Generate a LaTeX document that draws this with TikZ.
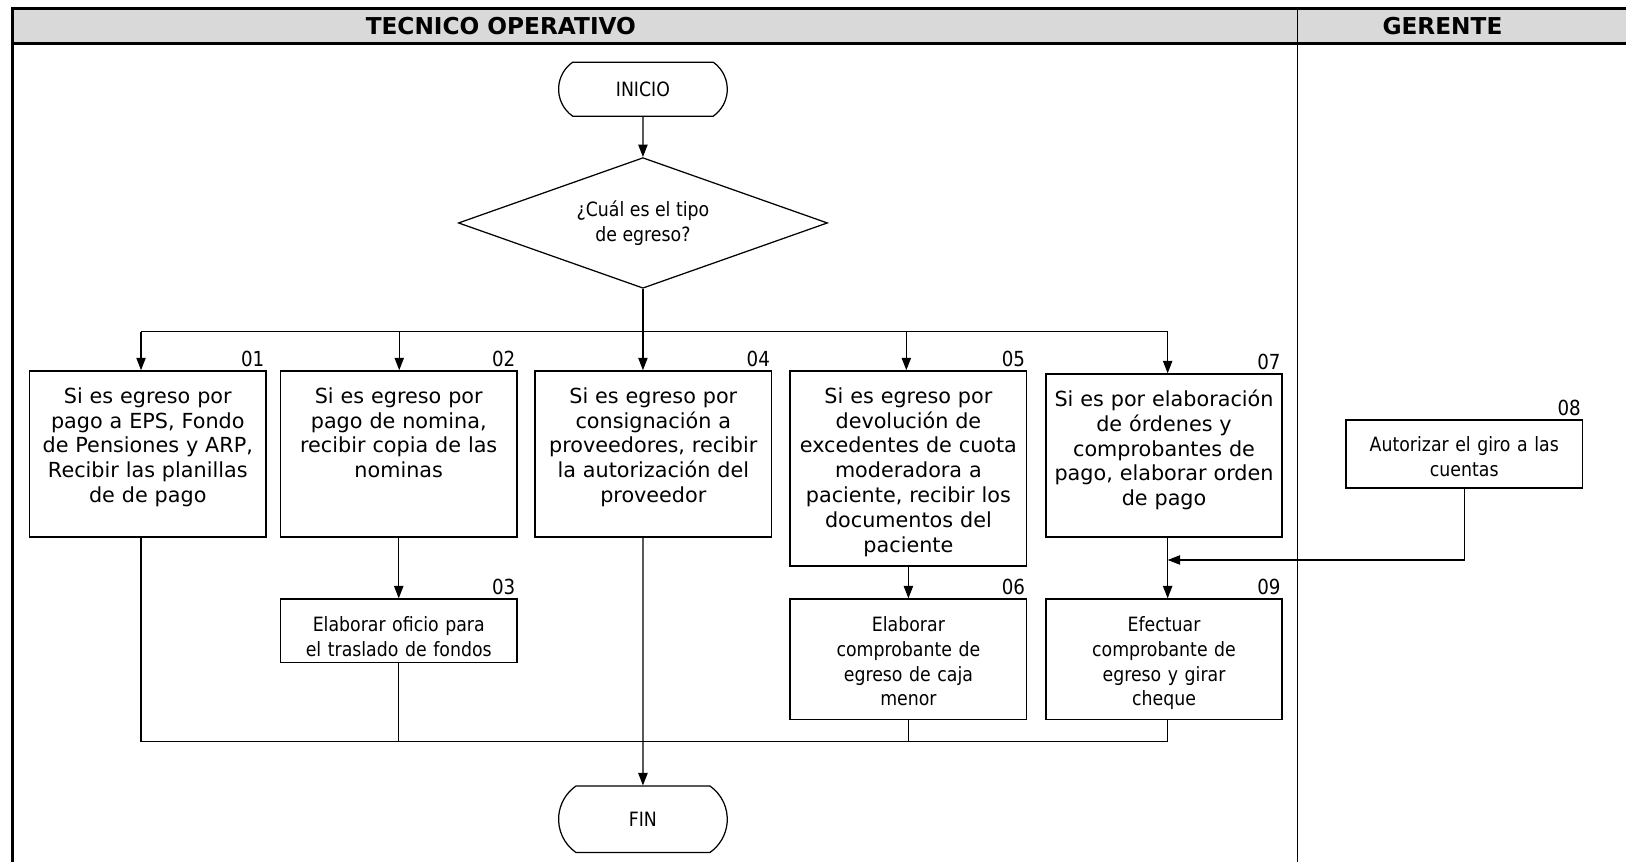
\documentclass[tikz,border=0pt]{standalone}
\usepackage{fontspec}
\setmainfont{DejaVu Sans}
\newfontfamily\condensada[FakeStretch=0.88]{DejaVu Sans}
\usetikzlibrary{shapes.geometric,shapes.misc,arrows.meta}

\tikzset{
  carril/.style={font=\bfseries\fontsize{11.2}{13}\selectfont},
  caja/.style={draw, line width=0.8pt, text width=110pt, align=center,
    inner xsep=2pt, inner ysep=0pt, text height=15.5pt, text depth=#1,
    anchor=north, font=\fontsize{10}{12}\selectfont},
  cajaest/.style={caja=#1, font=\condensada\fontsize{9.5}{12}\selectfont},
  terminal/.style={draw, rounded rectangle, rounded rectangle arc length=110,
    minimum width=88pt, minimum height=26pt, line width=0.6pt,
    font=\condensada\fontsize{9.5}{12}\selectfont},
  decision/.style={draw, diamond, shape aspect=2.8, minimum width=178pt,
    minimum height=63pt, inner sep=0pt, align=center, line width=0.6pt,
    font=\condensada\fontsize{9.5}{12}\selectfont},
  num/.style={anchor=south east, inner xsep=1pt, inner ysep=1.5pt,
    font=\condensada\fontsize{10}{12}\selectfont},
  linea/.style={line width=0.6pt},
  flecha/.style={linea, -{Triangle[length=6pt,width=4.5pt]}}
}

\begin{document}
\begin{tikzpicture}[x=0.5pt, y=-0.5pt]
\useasboundingbox (0,0) rectangle (1568,831);
\clip (0,0) rectangle (1568,831);

% Carriles
\fill[black!15] (12,8) rectangle (1600,42);
\draw[line width=1.2pt] (12,900) -- (12,8) -- (1600,8);
\draw[line width=1.2pt] (12,42) -- (1600,42);
\draw[linea] (1251,8) -- (1251,900);
\node[carril] (tecnico) at (483,25) {TECNICO OPERATIVO};
\node[carril] (gerente) at (1391,25) {GERENTE};

% Inicio y decision
\node[terminal] (ini) at (620,86) {INICIO};
\node[decision] (tipo) at (620,215) {¿Cuál es el tipo\\de egreso?};

% Actividades
\node[caja=64.5pt] (p01) at (142.5,357) {Si es egreso por\\pago a EPS, Fondo\\de Pensiones y ARP,\\Recibir las planillas\\de de pago};
\node[caja=64.5pt] (p02) at (384.5,357) {Si es egreso por\\pago de nomina,\\recibir copia de las\\nominas};
\node[caja=64.5pt] (p04) at (630,357) {Si es egreso por\\consignación a\\proveedores, recibir\\la autorización del\\proveedor};
\node[caja=78.5pt] (p05) at (876,357) {Si es egreso por\\devolución de\\excedentes de cuota\\moderadora a\\paciente, recibir los\\documentos del\\paciente};
\node[caja=63pt] (p07) at (1122.5,360) {Si es por elaboración\\de órdenes y\\comprobantes de\\pago, elaborar orden\\de pago};
\node[cajaest=17.5pt] (p08) at (1412,404) {Autorizar el giro a las\\cuentas};
\node[cajaest=15pt] (p03) at (384.5,577) {Elaborar oficio para\\el traslado de fondos};
\node[cajaest=42.5pt] (p06) at (876,577) {Elaborar\\comprobante de\\egreso de caja\\menor};
\node[cajaest=42.5pt] (p09) at (1122.5,577) {Efectuar\\comprobante de\\egreso y girar\\cheque};

% Numeros
\foreach \p/\n in {p01/01, p02/02, p03/03, p04/04, p05/05, p06/06, p07/07, p08/08, p09/09}
  \node[num] (n\n) at (\p.north east) {\n};

\node[terminal, minimum height=32pt] (fin) at (620,790) {FIN};

% Conectores
\coordinate (c1) at (136,320);
\coordinate (c2) at (385,320);
\coordinate (c3) at (620,320);
\coordinate (c4) at (874,320);
\coordinate (c5) at (1126,320);
\coordinate (union) at (136,715);
\coordinate (giro) at (1126,540);

\draw[flecha] (ini) -- (tipo);
\draw[linea] (tipo.south) -- (c3);
\draw[linea] (c1) -- (c5);
\foreach \c/\p in {c1/p01, c2/p02, c3/p04, c4/p05, c5/p07}
  \draw[flecha] (\c) -- (\c |- \p.north);
\draw[flecha] (p02.south) -- (p03.north);
\draw[flecha] (p05.south) -- (p06.north);
\draw[flecha] (c5 |- p07.south) -- (c5 |- p09.north);
\draw[flecha] (p08.south) |- (giro);
\draw[linea] (c1 |- p01.south) -- (union) -| (c5 |- p09.south);
\draw[linea] (p03.south) -- (p03.south |- union);
\draw[linea] (p06.south) -- (p06.south |- union);
\draw[flecha] (c3 |- p04.south) -- (fin);
\end{tikzpicture}
\end{document}
